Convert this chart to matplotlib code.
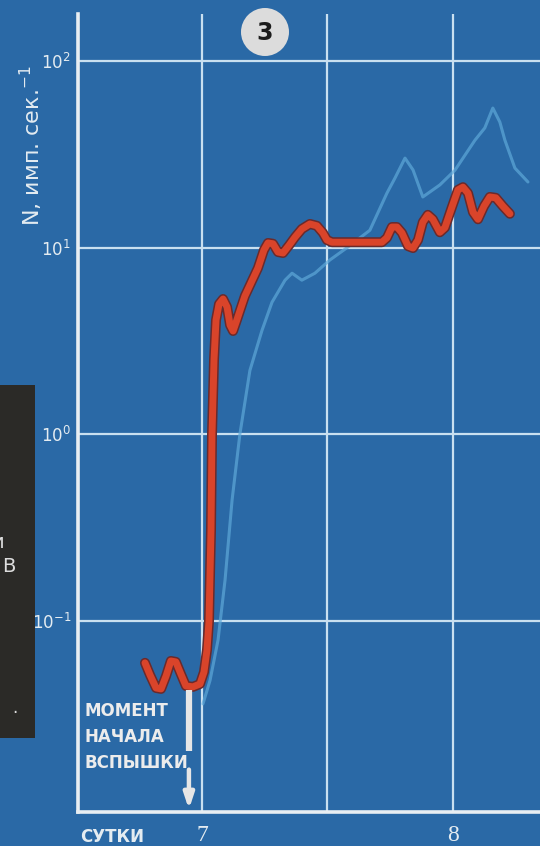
import math
import matplotlib
matplotlib.use("Agg")
import matplotlib.pyplot as plt
import matplotlib.patheffects as pe
from matplotlib import font_manager
from matplotlib.patches import Rectangle, Ellipse
from matplotlib.ticker import FixedLocator, FuncFormatter, NullLocator

# ---- data: counting rate N (imp/s) versus time (days) ----
red_days = [6.773, 6.793, 6.817, 6.837, 6.857, 6.876, 6.896, 6.916, 6.936, 6.964,
            6.992, 7.008, 7.020, 7.028, 7.036, 7.040, 7.048, 7.056, 7.068, 7.084,
            7.100, 7.112, 7.124, 7.139, 7.171, 7.223, 7.247, 7.263, 7.283, 7.303,
            7.323, 7.347, 7.371, 7.398, 7.430, 7.458, 7.482, 7.498, 7.518, 7.610,
            7.717, 7.737, 7.757, 7.777, 7.797, 7.821, 7.841, 7.861, 7.880, 7.900,
            7.920, 7.948, 7.968, 7.996, 8.020, 8.040, 8.060, 8.080, 8.100, 8.124,
            8.147, 8.171, 8.199, 8.227]
red_rate = [0.0597, 0.0514, 0.0438, 0.0433, 0.0508, 0.0611, 0.0604, 0.0520, 0.0449, 0.0444,
            0.0460, 0.0533, 0.0700, 0.100, 0.308, 1.00, 2.51, 4.10, 4.99, 5.31,
            4.81, 3.85, 3.58, 4.10, 5.51, 7.78, 9.72, 10.6, 10.5, 9.48,
            9.37, 10.3, 11.4, 12.6, 13.4, 13.1, 12.0, 11.0, 10.7, 10.7,
            10.7, 11.3, 12.9, 12.9, 12.0, 10.2, 9.96, 11.0, 13.7, 15.0,
            14.2, 12.1, 12.8, 16.5, 20.4, 21.1, 19.6, 15.5, 14.2, 16.7,
            18.7, 18.5, 16.7, 15.2]

blue_days = [7.004, 7.032, 7.064, 7.092, 7.120, 7.151, 7.191, 7.239, 7.279, 7.331,
             7.359, 7.398, 7.450, 7.510, 7.578, 7.669, 7.737, 7.769, 7.809, 7.841,
             7.880, 7.948, 8.008, 8.088, 8.127, 8.159, 8.187, 8.207, 8.247, 8.299]
blue_rate = [0.036, 0.048, 0.079, 0.166, 0.445, 1.0, 2.2, 3.6, 5.1, 6.7,
             7.3, 6.7, 7.3, 8.6, 10.0, 12.4, 19.6, 23.6, 30.2, 26.1,
             18.7, 21.7, 26.0, 37.7, 43.8, 56.0, 47.1, 37.7, 26.7, 22.5]

x_ticks = [7, 7.5, 8]
x_labels = ["7", "", "8"]
y_ticks = [1e-1, 1e0, 1e1, 1e2]
flare_day = 6.948

# ---- style ----
BG = "#2a69a6"
INK = "#e4ecf1"
GRID = "#c9e0f0"
RED = "#d9442a"

names = {f.name for f in font_manager.fontManager.ttflist}
NARROW = "Liberation Sans Narrow" if "Liberation Sans Narrow" in names else "DejaVu Sans"
SERIF = "Liberation Serif" if "Liberation Serif" in names else "DejaVu Serif"
plt.rcParams["font.family"] = [NARROW, "DejaVu Sans"]
plt.rcParams["mathtext.default"] = "regular"

W, H = 540, 846
fig = plt.figure(figsize=(W / 100, H / 100), dpi=100)
fig.patch.set_facecolor(BG)

ax = fig.add_axes([78 / W, 1 - 812 / H, 1 - 78 / W, (812 - 14) / H])
ax.set_facecolor(BG)
ax.set_yscale("log")
ax.set_xlim(6.506, 8.347)
ax.set_ylim(10 ** -2.023, 10 ** 2.252)

ax.yaxis.set_major_locator(FixedLocator(y_ticks))
ax.yaxis.set_minor_locator(NullLocator())
ax.yaxis.set_major_formatter(FuncFormatter(lambda v, p: "$10^{%d}$" % round(math.log10(v))))
ax.set_xticks(x_ticks)
ax.set_xticklabels(x_labels, fontfamily=SERIF, fontsize=17, color=INK)
ax.tick_params(axis="both", length=0)
ax.tick_params(axis="y", pad=5, labelsize=12, labelcolor=INK)
ax.tick_params(axis="x", pad=9)

ax.grid(True, color=GRID, lw=1.6, zorder=1)
for s in ("top", "right"):
    ax.spines[s].set_visible(False)
for s in ("left", "bottom"):
    ax.spines[s].set_color("#e8eef2")
    ax.spines[s].set_linewidth(2.6)

# light blue reference curve
ax.plot(blue_days, blue_rate, color="#5ea9d9", lw=2.2, alpha=0.7,
        solid_joinstyle="round", solid_capstyle="round", zorder=3)
# main red curve with dark edge
ax.plot(red_days, red_rate, color=RED, lw=5.0, solid_joinstyle="round",
        solid_capstyle="round", zorder=4,
        path_effects=[pe.Stroke(linewidth=7.2, foreground="#6a2a2c"), pe.Normal()])

# flare onset marker
ax.plot([flare_day, flare_day], [0.0428, 0.0201], color="#e6e6e6", lw=4.5,
        solid_capstyle="butt", zorder=5)
ax.annotate("", xy=(flare_day, 0.0098), xytext=(flare_day, 0.0160),
            arrowprops=dict(arrowstyle="-|>,head_width=0.3,head_length=0.9",
                            color="#e6e6e6", lw=3.2, shrinkA=0, shrinkB=0),
            zorder=5)
for i, line in enumerate(["МОМЕНТ", "НАЧАЛА", "ВСПЫШКИ"]):
    fig.text(85 / W, 1 - (711 + 26 * i) / H, line, ha="left", va="center",
             fontsize=12, fontweight="bold", color="#ececec")

# axis titles
fig.text(31 / W, 1 - 146 / H, "N, имп. сек.$^{-1}$", rotation=90,
         ha="center", va="center", fontsize=16, color=INK)
fig.text(112 / W, 1 - 837 / H, "СУТКИ", ha="center", va="center",
         fontsize=12, fontweight="bold", color=INK)

# panel number badge
fig.patches.append(Ellipse((265 / W, 1 - 32 / H), 48 / W, 48 / H,
                           transform=fig.transFigure, facecolor="#dcdcdc",
                           edgecolor="none", zorder=6))
fig.text(265 / W, 1 - 33 / H, "3", ha="center", va="center", fontsize=17,
         fontweight="bold", color="#1c1c1c", fontfamily="DejaVu Sans", zorder=7)

# edge of neighbouring dark panel
fig.patches.append(Rectangle((0, 1 - 738 / H), 35 / W, (738 - 385) / H,
                             transform=fig.transFigure, facecolor="#2b2a27",
                             edgecolor="none", zorder=0))
fig.text(4 / W, 1 - 543 / H, "и", ha="right", va="center", fontsize=14,
         color="#dddddd", fontfamily="DejaVu Sans")
fig.text(2 / W, 1 - 566 / H, "В", ha="left", va="center", fontsize=14,
         color="#dddddd", fontfamily="DejaVu Sans")
fig.text(15 / W, 1 - 713 / H, "·", ha="center", va="center", fontsize=12,
         color="#dddddd")

fig.savefig("out.png", dpi=100, facecolor=BG)
